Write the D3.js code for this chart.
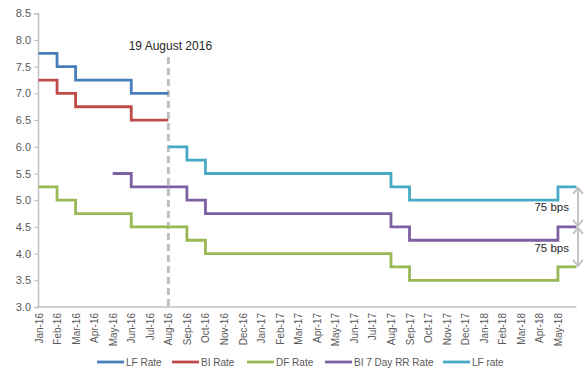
<!DOCTYPE html>
<html><head><meta charset="utf-8">
<script src="https://cdn.jsdelivr.net/npm/d3@7"></script>
<style>body{margin:0;background:#fff}svg{display:block;font-family:"Liberation Sans",Arial,sans-serif}</style>
</head><body><svg id="c" width="584" height="369"></svg>
<script>
const months = ["Jan-16","Feb-16","Mar-16","Apr-16","May-16","Jun-16","Jul-16","Aug-16","Sep-16","Oct-16","Nov-16","Dec-16",
"Jan-17","Feb-17","Mar-17","Apr-17","May-17","Jun-17","Jul-17","Aug-17","Sep-17","Oct-17","Nov-17","Dec-17",
"Jan-18","Feb-18","Mar-18","Apr-18","May-18"];
const yTicks = [3.0,3.5,4.0,4.5,5.0,5.5,6.0,6.5,7.0,7.5,8.0,8.5];
const lfRateOld = [7.75,7.5,7.25,7.25,7.25,7.0,7.0,null,null,null,null,null,null,null,null,null,null,null,null,null,null,null,null,null,null,null,null,null,null];
const biRate    = [7.25,7.0,6.75,6.75,6.75,6.5,6.5,null,null,null,null,null,null,null,null,null,null,null,null,null,null,null,null,null,null,null,null,null,null];
const dfRate    = [5.25,5.0,4.75,4.75,4.75,4.5,4.5,4.5,4.25,4.0,4.0,4.0,4.0,4.0,4.0,4.0,4.0,4.0,4.0,3.75,3.5,3.5,3.5,3.5,3.5,3.5,3.5,3.5,3.75];
const bi7Rate   = [null,null,null,null,5.5,5.25,5.25,5.25,5.0,4.75,4.75,4.75,4.75,4.75,4.75,4.75,4.75,4.75,4.75,4.5,4.25,4.25,4.25,4.25,4.25,4.25,4.25,4.25,4.5];
const lfRateNew = [null,null,null,null,null,null,null,6.0,5.75,5.5,5.5,5.5,5.5,5.5,5.5,5.5,5.5,5.5,5.5,5.25,5.0,5.0,5.0,5.0,5.0,5.0,5.0,5.0,5.25];
const seriesNames = ["LF Rate","BI Rate","DF Rate","BI 7 Day RR Rate","LF rate"];
const seriesVals = [lfRateOld,biRate,dfRate,bi7Rate,lfRateNew];
const colors = ["#4A7EBB","#BE4B48","#98B954","#7D60A0","#46AAC5"];
const eventLabel = "19 August 2016";
const eventIndex = 7;
const gapLabel = "75 bps";

const svg = d3.select("#c");
const x = d3.scaleLinear().domain([0,29]).range([38.5,576.5]);
const y = d3.scaleLinear().domain([3,8.5]).range([307,13.3]);

// y axis
const ya = svg.append("g").attr("transform","translate(38,0)")
  .call(d3.axisLeft(y).tickValues(yTicks).tickFormat(d3.format(".1f")).tickSize(4).tickPadding(3));
ya.select(".domain").attr("stroke","#BFBFBF").attr("stroke-width",1.5);
ya.selectAll(".tick line").attr("stroke","#BFBFBF");
ya.selectAll("text").attr("fill","#595959").style("font-size","11px").style("font-family","Liberation Sans, Arial");

// x axis
const xa = svg.append("g").attr("transform","translate(0,307)")
  .call(d3.axisBottom(x).tickValues(d3.range(months.length)).tickFormat(i=>months[i]).tickSize(0).tickSizeOuter(0));
xa.select(".domain").attr("stroke","#BFBFBF").attr("stroke-width",1.5).attr("d","M38,0H576.5");
xa.selectAll("text").attr("fill","#595959").style("font-size","10px")
  .attr("text-anchor","end").attr("transform","rotate(-90)").attr("x",-6).attr("y",0).attr("dy","0.35em");

// dashed event line
svg.append("line").attr("x1",x(eventIndex)).attr("x2",x(eventIndex)).attr("y1",57).attr("y2",307)
  .attr("stroke","#BFBFBF").attr("stroke-width",3).attr("stroke-dasharray","7,4");
svg.append("text").attr("x",x(eventIndex)+2).attr("y",50).attr("text-anchor","middle")
  .attr("fill","#262626").style("font-size","12px").text(eventLabel);

// series
const line = d3.line().x(d=>x(d[0])).y(d=>y(d[1])).curve(d3.curveStepAfter);
seriesVals.forEach((vals,k)=>{
  const pts = [];
  vals.forEach((v,i)=>{ if(v!==null) pts.push([i,v]); });
  const last = pts[pts.length-1];
  pts.push([last[0]+1,last[1]]);
  svg.append("path").attr("d",line(pts)).attr("fill","none").attr("stroke",colors[k]).attr("stroke-width",2.8);
});

// 75 bps arrows
const ax = 578;
function arrow(v1,v2){
  const y1 = y(v1)+1, y2 = y(v2)-1;
  svg.append("line").attr("x1",ax).attr("x2",ax).attr("y1",y1).attr("y2",y2).attr("stroke","#BFBFBF").attr("stroke-width",1.8);
  svg.append("path").attr("d",`M${ax-5},${y1+6}L${ax},${y1}L${ax+5},${y1+6}`).attr("fill","none").attr("stroke","#BFBFBF").attr("stroke-width",1.8);
  svg.append("path").attr("d",`M${ax-5},${y2-6}L${ax},${y2}L${ax+5},${y2-6}`).attr("fill","none").attr("stroke","#BFBFBF").attr("stroke-width",1.8);
}
const last = months.length-1;
arrow(lfRateNew[last], bi7Rate[last]);
arrow(bi7Rate[last], dfRate[last]);
svg.append("text").attr("x",569).attr("y",y(4.87)+4).attr("text-anchor","end").attr("fill","#262626").style("font-size","11.5px").text(gapLabel);
svg.append("text").attr("x",569).attr("y",y(4.1)+4).attr("text-anchor","end").attr("fill","#262626").style("font-size","11.5px").text(gapLabel);

// legend
const legX = [97,172,247,325,443];
const lg = svg.append("g");
seriesNames.forEach((n,k)=>{
  lg.append("line").attr("x1",legX[k]).attr("x2",legX[k]+27).attr("y1",362).attr("y2",362).attr("stroke",colors[k]).attr("stroke-width",2.8);
  lg.append("text").attr("x",legX[k]+29).attr("y",365.5).attr("fill","#595959").style("font-size","10px").text(n);
});
</script></body></html>
